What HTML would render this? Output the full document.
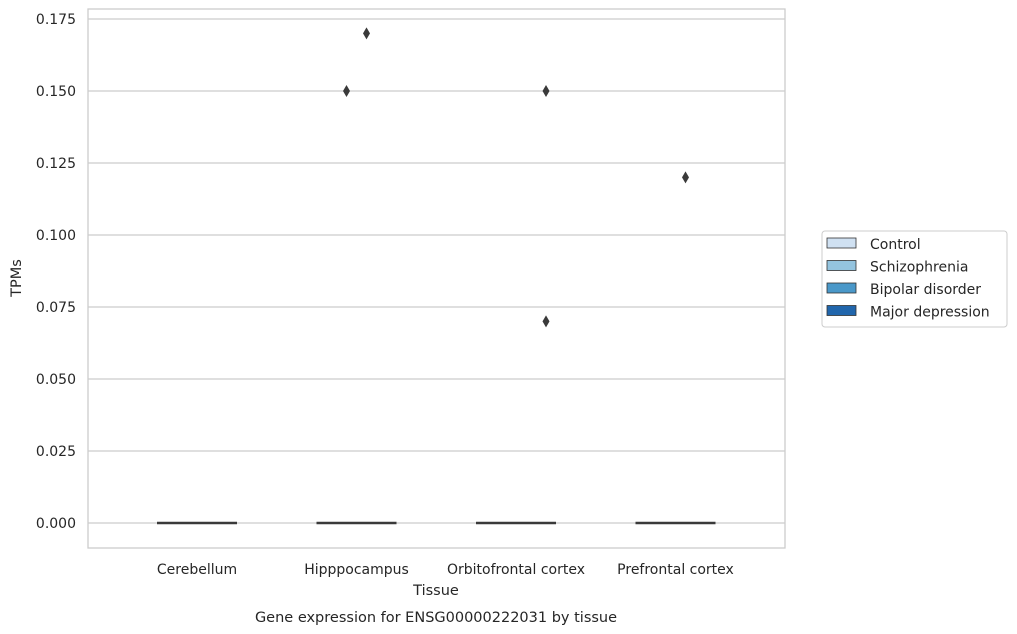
<!DOCTYPE html>
<html><head><meta charset="utf-8"><style>
body{margin:0;background:#fff;}
svg{display:block;font-family:"DejaVu Sans","Liberation Sans",sans-serif;}
</style></head><body>
<svg id="chart" width="1017" height="634" viewBox="0 0 1017 634" xmlns="http://www.w3.org/2000/svg">
<g id="grid"></g>
<rect x="88" y="9" width="697" height="539" fill="none" stroke="#cccccc" stroke-width="1.3"/>
<g id="yticks"></g>
<g id="xticks"></g>
<g id="marks"></g>
<text transform="translate(21,278) rotate(-90)" text-anchor="middle" font-size="14.5" fill="#262626">TPMs</text>
<text x="436" y="595" text-anchor="middle" font-size="14.5" fill="#262626">Tissue</text>
<text x="436" y="622" text-anchor="middle" font-size="14.5" fill="#262626">Gene expression for ENSG00000222031 by tissue</text>
<g id="legend">
<rect x="822" y="231" width="185" height="96" rx="3" fill="#fff" stroke="#cccccc"/>
</g>
</svg>
<script>
const categories=["Cerebellum","Hipppocampus","Orbitofrontal cortex","Prefrontal cortex"];
const hues=["Control","Schizophrenia","Bipolar disorder","Major depression"];
const hueColors=["#d0e1f2","#94c4df","#4a98c9","#2166ac"];
const yTicks=[0,0.025,0.05,0.075,0.1,0.125,0.15,0.175];
const yTickLabels=["0.000","0.025","0.050","0.075","0.100","0.125","0.150","0.175"];
// median value per category per hue (all zero)
const medians=[[0,0,0,0],[0,0,0,0],[0,0,0,0],[0,0,0,0]];
// outliers: [categoryIndex, hueIndex, value]
const outCat=[1,1,2,2,3];
const outHue=[1,2,3,3,2];
const outVal=[0.15,0.17,0.15,0.07,0.12];

const NS="http://www.w3.org/2000/svg";
function y(v){return 523-v*(72/0.025);}
function xc(i){return 197+159.5*i;}
const hw=20;
function xh(i,h){return xc(i)-40+hw*h+hw/2;}
function mk(tag,attrs,parent){const e=document.createElementNS(NS,tag);for(const k in attrs)e.setAttribute(k,attrs[k]);parent.appendChild(e);return e;}
const grid=document.getElementById('grid'),yt=document.getElementById('yticks'),xt=document.getElementById('xticks'),marks=document.getElementById('marks'),lg=document.getElementById('legend');
yTicks.forEach((v,i)=>{
  const l=mk('line',{x1:88,x2:785,y1:y(v),y2:y(v),stroke:'#cccccc','stroke-width':1.2},grid);
  
  
  const t=mk('text',{x:76,y:y(v)+5,'text-anchor':'end','font-size':14,fill:'#262626'},yt);
  t.textContent=yTickLabels[i];
  
  
});
categories.forEach((c,i)=>{
  const t=mk('text',{x:xc(i),y:574,'text-anchor':'middle','font-size':14,fill:'#262626'},xt);
  t.textContent=c;
  
  
  hues.forEach((h,j)=>{
    const m=medians[i][j];
    const b=mk('line',{x1:xh(i,j)-hw/2,x2:xh(i,j)+hw/2,y1:y(m),y2:y(m),stroke:'#3a3a3a','stroke-width':2.6},marks);
    
    
  });
});
outVal.forEach((v,k)=>{
  const cx=xh(outCat[k],outHue[k]),cy=y(v);
  const p=mk('polygon',{points:`${cx},${cy-6} ${cx+3.5},${cy} ${cx},${cy+6} ${cx-3.5},${cy}`,fill:'#3a3a3a'},marks);
  
  
});
hues.forEach((h,j)=>{
  const yy=238+j*22.5;
  const r=mk('rect',{x:827,y:yy,width:29,height:10,fill:hueColors[j],stroke:'#333','stroke-width':0.8},lg);
  
  
  const t=mk('text',{x:870,y:yy+11,'font-size':14,fill:'#262626'},lg);
  t.textContent=h;
  
  
});
</script>
</body></html>
